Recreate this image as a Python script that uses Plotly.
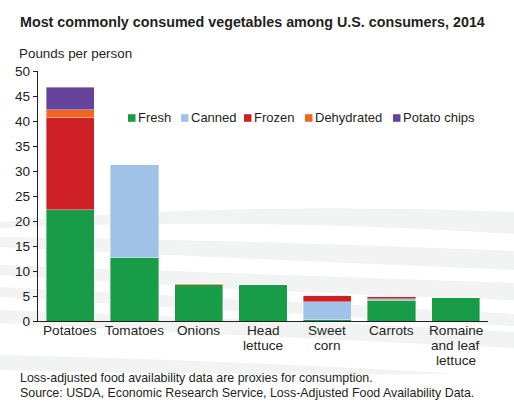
import plotly.graph_objects as go

# ---- data ----
categories = ["Potatoes", "Tomatoes", "Onions", "Head lettuce", "Sweet corn", "Carrots", "Romaine and leaf lettuce"]
category_label_lines = [["Potatoes"], ["Tomatoes"], ["Onions"], ["Head", "lettuce"], ["Sweet", "corn"],
                        ["Carrots"], ["Romaine", "and leaf", "lettuce"]]
series_names = ["Fresh", "Canned", "Frozen", "Dehydrated", "Potato chips"]
fresh = [22.3, 12.7, 7.3, 7.3, 0.3, 4.2, 4.7]
canned = [0, 18.7, 0, 0, 3.6, 0.3, 0]
frozen = [18.4, 0, 0, 0, 1.3, 0.5, 0]
dehydrated = [1.6, 0, 0.2, 0, 0, 0, 0]
potato_chips = [4.5, 0, 0, 0, 0, 0, 0]
y_ticks = [0, 5, 10, 15, 20, 25, 30, 35, 40, 45, 50]

series_values = [fresh, canned, frozen, dehydrated, potato_chips]
colors = ["#189c48", "#9fc2e6", "#d02027", "#f26522", "#65439a"]

W, H = 514, 411
L, R, T, B = 38, 26, 71, 90
PW, PH = W - L - R, H - T - B


def px(x):
    return (x - L) / PW


def py(y):
    return (H - B - y) / PH


FONT = "Liberation Sans, Arial, sans-serif"
TXT = "#231f20"

fig = go.Figure()
for name, vals, col in zip(series_names, series_values, colors):
    fig.add_trace(go.Bar(
        x=categories, y=vals, name=name, showlegend=False,
        marker=dict(color=col, line=dict(color="rgba(255,255,255,0.55)", width=0.7)),
    ))


# decorative background swooshes (light grey bands), pixel-space definitions
def band(x0, x1, top, bot):
    xm = (x0 + x1) / 2
    ct = 2 * top[1] - (top[0] + top[2]) / 2
    cb = 2 * bot[1] - (bot[0] + bot[2]) / 2
    return ("M {},{} Q {},{} {},{} L {},{} Q {},{} {},{} Z".format(
        px(x0), py(top[0]), px(xm), py(ct), px(x1), py(top[2]),
        px(x1), py(bot[2]), px(xm), py(cb), px(x0), py(bot[0])))


swooshes = [
    band(0, 514, (222, 209, 212), (228, 224, 234)),
    band(0, 514, (237, 242, 251), (247, 259, 270)),
    band(0, 514, (265, 274, 283), (275, 290, 300)),
    band(0, 514, (287, 300, 314), (297, 312, 326)),
    band(0, 514, (310, 320, 332), (323, 336, 348)),
    band(0, 446, (355, 362, 373), (370, 374, 374)),
]
shapes = []
for p in swooshes:
    shapes.append(dict(type="path", path=p, xref="paper", yref="paper",
                       fillcolor="#f2f3f3", line=dict(width=0), layer="below"))

# legend keys (custom, compact)
legend_sq_x = [128, 181, 244, 305, 393]
legend_y = 118
annotations = []
for name, col, sx in zip(series_names, colors, legend_sq_x):
    shapes.append(dict(type="rect", xref="paper", yref="paper",
                       x0=px(sx), x1=px(sx + 7.5), y0=py(legend_y + 3.8), y1=py(legend_y - 3.8),
                       fillcolor=col, line=dict(width=0)))
    annotations.append(dict(text=name, xref="paper", yref="paper", x=px(sx + 7.5), y=py(legend_y),
                            xanchor="left", yanchor="middle", showarrow=False,
                            font=dict(family=FONT, size=13, color=TXT)))

# category labels (tight line spacing)
for cat, lines in zip(categories, category_label_lines):
    for i, line in enumerate(lines):
        annotations.append(dict(text=line, xref="x", yref="paper", x=cat, y=py(330 + 15 * i),
                                xanchor="center", yanchor="middle", showarrow=False,
                                font=dict(family=FONT, size=13.6, color=TXT)))

# titles and notes
annotations += [
    dict(text="<b>Most commonly consumed vegetables among U.S. consumers, 2014</b>",
         xref="paper", yref="paper", x=px(18), y=py(22), xanchor="left", yanchor="middle",
         showarrow=False, font=dict(family=FONT, size=14.3, color=TXT)),
    dict(text="Pounds per person", xref="paper", yref="paper", x=px(17), y=py(54),
         xanchor="left", yanchor="middle", showarrow=False,
         font=dict(family=FONT, size=13.4, color=TXT)),
    dict(text="Loss-adjusted food availability data are proxies for consumption.",
         xref="paper", yref="paper", x=px(18), y=py(378), xanchor="left", yanchor="middle",
         showarrow=False, font=dict(family=FONT, size=12.4, color=TXT)),
    dict(text="Source: USDA, Economic Research Service, Loss-Adjusted Food Availability Data.",
         xref="paper", yref="paper", x=px(18), y=py(393), xanchor="left", yanchor="middle",
         showarrow=False, font=dict(family=FONT, size=12.4, color=TXT)),
]

fig.update_layout(
    barmode="stack", bargap=0.25,
    width=W, height=H, margin=dict(l=L, r=R, t=T, b=B, pad=0),
    paper_bgcolor="white", plot_bgcolor="rgba(0,0,0,0)",
    shapes=shapes, annotations=annotations,
    font=dict(family=FONT, size=13, color=TXT),
    xaxis=dict(showline=True, linecolor=TXT, linewidth=1.2, ticks="", showgrid=False,
               showticklabels=False, fixedrange=True),
    yaxis=dict(range=[0, 50], tickvals=y_ticks, showline=True, linecolor=TXT, linewidth=1.2,
               ticks="outside", ticklen=4, tickcolor=TXT, showgrid=False, zeroline=False,
               tickfont=dict(family=FONT, size=13.6, color=TXT), fixedrange=True),
)

fig.write_html("out.html", config={"displayModeBar": False},
               post_script="document.body.style.margin='0';document.body.style.overflow='hidden';")
